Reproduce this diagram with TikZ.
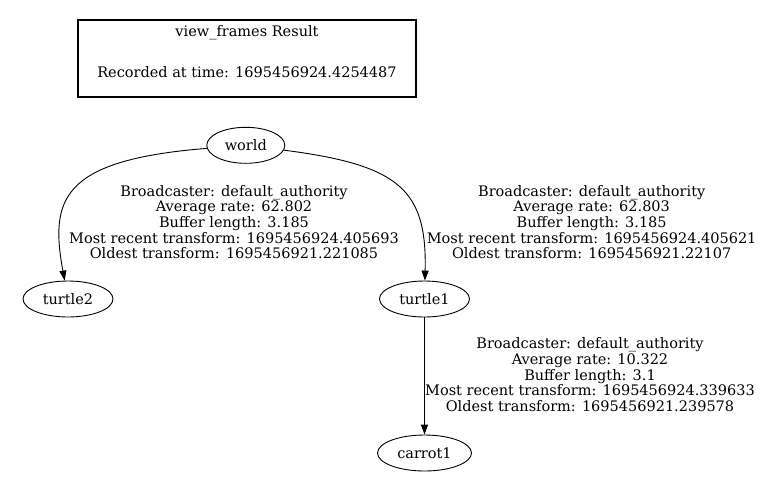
\documentclass[tikz,border=0pt]{standalone}
\usepackage{fontspec}
\setmainfont{DejaVu Serif}
\usetikzlibrary{shapes.geometric,arrows.meta}
\tikzset{
  frame/.style={ellipse, draw, line width=0.9pt, inner sep=0pt, minimum height=36pt},
  tflabel/.style={align=center, inner sep=0pt},
  tfedge/.style={line width=0.9pt, -{Triangle[length=10pt,width=7pt]}},
  legendbox/.style={draw, line width=2pt, inner sep=0pt},
  plain/.style={inner sep=0pt}
}
\begin{document}
\begin{tikzpicture}[x=1pt, y=-1pt, font=\fontsize{14.5}{15.65}\selectfont]
\fill[white] (0,0) rectangle (773,483);
\useasboundingbox (0,0) rectangle (773,483);

% legend
\node[legendbox, minimum width=338pt, minimum height=77pt] (legend) at (247,58.5) {};
\node[plain] (legendtitle) at (247,33) {view\_frames Result};
\node[plain] (recorded) at (247,71.7) {Recorded at time: 1695456924.4254487};

% frames
\node[frame, minimum width=78pt] (world) at (245.8,145.3) {world};
\node[frame, minimum width=90pt] (turtle2) at (68,299) {turtle2};
\node[frame, minimum width=90pt] (turtle1) at (424.5,299) {turtle1};
\node[frame, minimum width=94pt] (carrot1) at (424.5,453) {carrot1};

% edges
\draw[tfedge] (world) .. controls (60,160) and (50,200) .. (turtle2);
\draw[tfedge] (world) .. controls (400,165) and (427,190) .. (turtle1);
\draw[tfedge] (turtle1) -- (carrot1);

% labels
\node[tflabel] (lab1) at (234,222) {Broadcaster: default\_authority\\Average rate: 62.802\\Buffer length: 3.185\\Most recent transform: 1695456924.405693\\Oldest transform: 1695456921.221085};
\node[tflabel] (lab2) at (591.7,222) {Broadcaster: default\_authority\\Average rate: 62.803\\Buffer length: 3.185\\Most recent transform: 1695456924.405621\\Oldest transform: 1695456921.22107};
\node[tflabel] (lab3) at (590,374.7) {Broadcaster: default\_authority\\Average rate: 10.322\\Buffer length: 3.1\\Most recent transform: 1695456924.339633\\Oldest transform: 1695456921.239578};
\end{tikzpicture}
\end{document}
